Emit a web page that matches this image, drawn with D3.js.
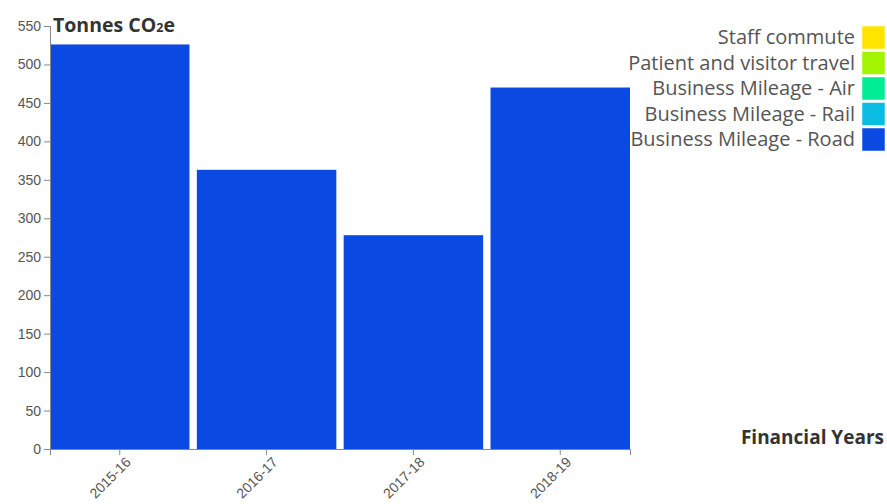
<!DOCTYPE html>
<html>
<head>
<meta charset="utf-8">
<script src="https://cdn.jsdelivr.net/npm/d3@7"></script>
<style>
  html, body { margin: 0; padding: 0; background: #fff; }
  svg { display: block; font-family: "Open Sans", "Noto Sans", sans-serif; }
</style>
</head>
<body>
<svg id="chart" width="887" height="504"></svg>
<script>
// Financial years on the x axis
const years = ["2015-16", "2016-17", "2017-18", "2018-19"];

// Emission sources, bottom of stack first
const sources = [
  "Business Mileage - Road",
  "Business Mileage - Rail",
  "Business Mileage - Air",
  "Patient and visitor travel",
  "Staff commute"
];
const sourceColors = ["#0a4ae3", "#0bbde2", "#00ec95", "#a2f400", "#ffe400"];

// Tonnes CO2e per source per year
const road    = [526, 363, 278, 470];
const rail    = [0, 0, 0, 0];
const air     = [0, 0, 0, 0];
const patient = [0, 0, 0, 0];
const staff   = [0, 0, 0, 0];

const yTicks = [0, 50, 100, 150, 200, 250, 300, 350, 400, 450, 500, 550];

const seriesValues = [road, rail, air, patient, staff];
const rows = years.map((y, i) => {
  const r = { year: y };
  sources.forEach((s, k) => { r[s] = seriesValues[k][i]; });
  return r;
});

const svg = d3.select("#chart");
const margin = { left: 50, right: 257, top: 26, bottom: 55 };
const W = 887, H = 504;

const x = d3.scaleBand()
  .domain(years)
  .range([margin.left, W - margin.right])
  .paddingInner(0.05)
  .paddingOuter(0);

const y = d3.scaleLinear()
  .domain([0, 550])
  .range([H - margin.bottom, margin.top]);

const stacked = d3.stack().keys(sources)(rows);
const color = d3.scaleOrdinal().domain(sources).range(sourceColors);

// Stacked bars
svg.append("g")
  .selectAll("g")
  .data(stacked)
  .join("g")
  .attr("fill", d => color(d.key))
  .selectAll("rect")
  .data(d => d)
  .join("rect")
  .attr("x", d => x(d.data.year))
  .attr("width", x.bandwidth())
  .attr("y", d => y(d[1]))
  .attr("height", d => Math.max(0, y(d[0]) - y(d[1])));

// Axes
const axisColor = "#888";
const labelColor = "#555";

const yAxis = svg.append("g")
  .attr("transform", `translate(${margin.left},0)`)
  .call(d3.axisLeft(y).tickValues(yTicks).tickSize(6).tickPadding(3));
yAxis.selectAll("path, line").attr("stroke", axisColor);
yAxis.selectAll("text").attr("fill", labelColor).style("font-size", "14px");

const xAxis = svg.append("g")
  .attr("transform", `translate(0,${H - margin.bottom})`)
  .call(d3.axisBottom(x).tickSize(6).tickPadding(4));
xAxis.selectAll("path, line").attr("stroke", axisColor);
xAxis.selectAll("text")
  .attr("fill", labelColor)
  .style("font-size", "14px")
  .attr("text-anchor", "end")
  .attr("dx", "-0.1em")
  .attr("dy", "0.6em")
  .attr("transform", "rotate(-45)");

// Axis titles
const title = svg.append("text")
  .attr("x", 53)
  .attr("y", 32)
  .attr("fill", "#333")
  .style("font-size", "19.5px")
  .style("font-weight", "bold");
title.append("tspan").text("Tonnes CO");
title.append("tspan").text("2").style("font-size", "12.5px");
title.append("tspan").text("e");

svg.append("text")
  .attr("x", 884)
  .attr("y", 444)
  .attr("text-anchor", "end")
  .attr("fill", "#333")
  .style("font-size", "19px")
  .style("font-weight", "bold")
  .text("Financial Years");

// Legend, top entry is the top of the stack
const legendOrder = sources.slice().reverse();
const legend = svg.append("g")
  .selectAll("g")
  .data(legendOrder)
  .join("g")
  .attr("transform", (d, i) => `translate(0,${26 + i * 25.5})`);

legend.append("rect")
  .attr("x", 862)
  .attr("y", 0)
  .attr("width", 23)
  .attr("height", 23)
  .attr("fill", d => color(d))
  .attr("stroke", "#fff")
  .attr("stroke-width", 0.5);

legend.append("text")
  .attr("x", 855)
  .attr("y", 18)
  .attr("text-anchor", "end")
  .attr("fill", labelColor)
  .style("font-size", "20px")
  .text(d => d);
</script>
</body>
</html>
